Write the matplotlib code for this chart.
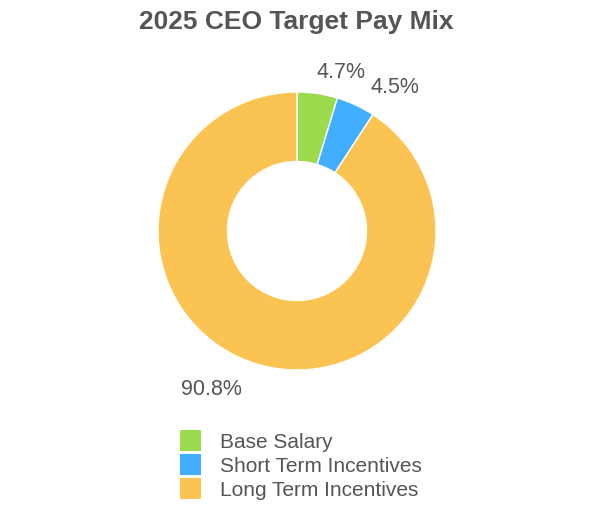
import matplotlib.pyplot as plt
from matplotlib.patches import Patch

plt.rcParams['font.family'] = ['Liberation Sans', 'DejaVu Sans']

# data
categories = ['Base Salary', 'Short Term Incentives', 'Long Term Incentives']
shares = [4.7, 4.5, 90.8]
colors = ['#9BDB4D', '#42AEFF', '#FBC352']
text_color = '#555555'

# label positions (radius units) - they sit a bit off the wedge middles
label_pos = [(0.317, 1.137), (0.705, 1.029), (-0.612, -1.137)]

fig = plt.figure(figsize=(5.94, 5.18), dpi=100)
box = 300
ax = fig.add_axes([(297 - box / 2) / 594, (287 - box / 2) / 518, box / 594, box / 518])

wedges, texts = ax.pie(shares, colors=colors, startangle=90, counterclock=False,
                       radius=1.0, wedgeprops=dict(width=0.5, edgecolor='white', linewidth=1),
                       labels=[f'{v}%' for v in shares], labeldistance=1.2)
for t, pos in zip(texts, label_pos):
    t.set_position(pos)
    t.set_ha('center')
    t.set_va('center')
    t.set_fontsize(15.5)
    t.set_color(text_color)

lim = (box / 2) / 139
ax.set_xlim(-lim, lim)
ax.set_ylim(-lim, lim)
ax.set_aspect('equal')
ax.axis('off')

fig.text(296 / 594, 1 - 22 / 518, '2025 CEO Target Pay Mix', ha='center', va='center',
         fontsize=19, fontweight='bold', color=text_color)

handles = [Patch(facecolor=c, edgecolor='none') for c in colors]
fig.legend(handles, categories, loc='center', bbox_to_anchor=(301 / 594, 1 - 465 / 518),
           frameon=False, fontsize=15, labelcolor=text_color, handlelength=1.0, handleheight=1.15,
           handletextpad=0.9, labelspacing=0.12, borderpad=0)

fig.savefig('out.png', dpi=100)
